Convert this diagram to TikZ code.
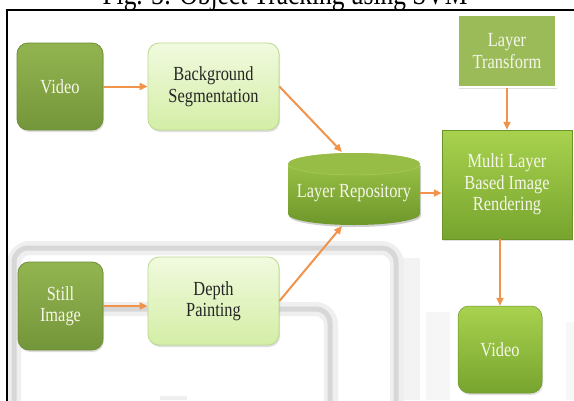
\documentclass[tikz,border=0pt]{standalone}
\usepackage{fontspec}
\setmainfont{Liberation Serif}[FakeStretch=0.82]
\usetikzlibrary{arrows.meta,shadows}

\definecolor{arrowc}{HTML}{F2934C}
\definecolor{dkTop}{HTML}{92B450}
\definecolor{dkBot}{HTML}{74963A}
\definecolor{dkEdge}{HTML}{6E8E36}
\definecolor{ltTop}{HTML}{F1FADF}
\definecolor{ltBot}{HTML}{D4EEA6}
\definecolor{ltEdge}{HTML}{B9DA8E}
\definecolor{brTop}{HTML}{A8D24E}
\definecolor{brBot}{HTML}{77A42E}
\definecolor{flat}{HTML}{9BBB59}
\definecolor{boxtext}{HTML}{F6F6EA}
\definecolor{ghost}{HTML}{C9C9C9}

\tikzset{
  basebox/.style={align=center, inner sep=2pt,
    drop shadow={shadow xshift=1pt, shadow yshift=-2pt, opacity=0.25}},
  darkbox/.style={basebox, rounded corners=11pt, draw=dkEdge, line width=0.8pt,
    top color=dkTop, bottom color=dkBot, text=boxtext},
  lightbox/.style={basebox, rounded corners=11pt, draw=ltEdge, line width=0.8pt,
    top color=ltTop, bottom color=ltBot, text=black!85},
  brightbox/.style={basebox, draw=brBot!90!black, line width=0.5pt,
    top color=brTop, bottom color=brBot, text=boxtext},
  brightround/.style={brightbox, rounded corners=11pt},
  flatbox/.style={basebox, draw=white, line width=1.5pt, fill=flat, text=boxtext},
  flow/.style={draw=arrowc, line width=2pt, -{Triangle[length=8pt,width=7pt]}},
  ghostwide/.style={draw=ghost!30, line width=14pt, rounded corners=16pt},
  ghostcore/.style={draw=ghost!75, line width=5pt, rounded corners=14pt},
}

\begin{document}
\begin{tikzpicture}[x=1pt, y=-1pt, font=\fontsize{20}{21.5}\selectfont]
\useasboundingbox (0,0) rectangle (574,400);
\fill[white] (0,0) rectangle (574,400);

% faint grey bands in the background
\fill[ghost!22] (402,258) rectangle (420,400);
\fill[ghost!16] (426,312) rectangle (450,400);
\fill[ghost!14] (566,322) rectangle (574,400);
\fill[ghost!30] (160,396) rectangle (187,400);
\draw[ghostwide] (14,410) -- (14,248) -- (397,248) -- (397,410);
\draw[ghostcore] (14,410) -- (14,248) -- (396,248) -- (396,410);
\draw[ghostwide] (100,309) -- (331,309) -- (331,410);
\draw[ghostcore] (100,309) -- (330,309) -- (330,410);

% caption, cut off at the top edge
\begin{scope}
  \clip (0,0) rectangle (574,10);
  \node[anchor=base, font=\fontsize{31}{31}\selectfont, inner sep=0] (cap)
    at (285,4.5) {Fig. 3: Object Tracking using SVM};
\end{scope}

% frame
\draw[line width=1.8pt] (7,404) -- (7,10) -- (578,10);

% boxes
\node[darkbox, minimum width=86pt, minimum height=87pt] (vid) at (60,86.5) {Video};
\node[lightbox, minimum width=131pt, minimum height=87pt] (bs) at (213.5,86.5)
  {Background\\Segmentation};
\node[darkbox, minimum width=85pt, minimum height=88pt] (still) at (60.5,306)
  {Still\\Image};
\node[lightbox, minimum width=131pt, minimum height=88pt] (dp) at (213.5,301)
  {Depth\\Painting};
\node[flatbox, minimum width=98pt, minimum height=72pt] (lt) at (507,51)
  {Layer\\Transform};
\node[brightbox, minimum width=130pt, minimum height=109pt] (ml) at (507,184.5)
  {Multi Layer\\Based Image\\Rendering};
\node[brightround, minimum width=84pt, minimum height=87pt] (vout) at (500,349.5)
  {Video};

% layer repository cylinder
\fill[black, opacity=0.18] (289,166) -- (289,216)
  arc[start angle=180, end angle=0, x radius=66, y radius=11]
  -- (421,166) -- cycle;
\shade[top color=brTop!95!black, bottom color=brBot!92!black]
  (288,164) -- (288,214)
  arc[start angle=180, end angle=0, x radius=66, y radius=11]
  -- (420,164)
  arc[start angle=0, end angle=-180, x radius=66, y radius=11] -- cycle;
\fill[brTop!90!black] (354,164) ellipse[x radius=66, y radius=11];
\draw[brTop!70!white, line width=0.4pt, opacity=0.5]
  (288,164) arc[start angle=180, end angle=0, x radius=66, y radius=11];
\node[text=boxtext, minimum width=132pt, minimum height=72pt, inner sep=0]
  (repo) at (354,193) {Layer Repository};
\coordinate (repoTop) at (342,152);
\coordinate (repoBot) at (342,226);

% connectors
\draw[flow] (vid.east) -- (bs.west);
\draw[flow] (bs.east) -- (repoTop);
\draw[flow] (still.east) -- (still.east -| dp.west);
\draw[flow] (dp.east) -- (repoBot);
\draw[flow] (repo.east) -- (repo.east -| ml.west);
\draw[flow] (lt.south) -- (ml.north);
\draw[flow] (vout.north |- ml.south) -- (vout.north);
\end{tikzpicture}
\end{document}
